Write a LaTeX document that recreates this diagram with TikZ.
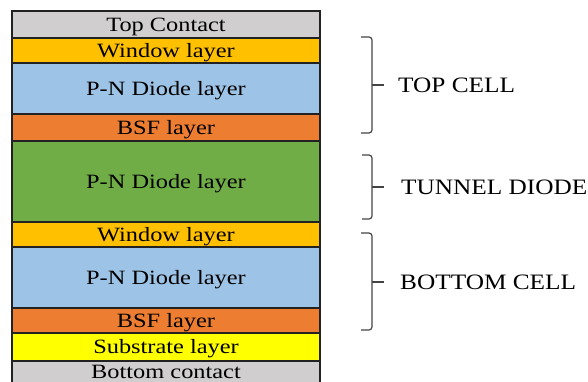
\documentclass[tikz,border=0pt]{standalone}
\usepackage{fontspec}
\setmainfont{Liberation Serif}
\newfontfamily\layfont[FakeStretch=1.2]{Liberation Serif}
\newfontfamily\labfont[FakeStretch=1.15]{Liberation Serif}
\definecolor{cgrey}{HTML}{D0CECE}
\definecolor{cgold}{HTML}{FFC000}
\definecolor{cblue}{HTML}{9DC3E6}
\definecolor{corange}{HTML}{ED7D31}
\definecolor{cgreen}{HTML}{70AD47}
\definecolor{cyellow}{HTML}{FFFF00}
\definecolor{cline}{HTML}{222222}
\definecolor{cbrace}{HTML}{444444}
\tikzset{
  layer/.style={draw=cline, line width=1.1pt, rectangle, anchor=north west,
    minimum width=308pt, inner sep=0pt, outer sep=0pt,
    text height=13.4pt, text depth=0pt,
    font=\layfont\fontsize{20.3}{22}\selectfont, text=black},
  bracepath/.style={draw=cbrace, line width=1.2pt, rounded corners=3pt},
  lab/.style={anchor=west, inner sep=0pt, font=\labfont\fontsize{22}{24}\selectfont, text=black}
}
\begin{document}
\begin{tikzpicture}[x=1pt,y=-1pt]
\clip (0,0) rectangle (588,382);
\fill[white] (0,0) rectangle (588,382);
% layers
\node[layer, fill=cgrey,   minimum height=27pt] (tc)   at (12,11)  {Top Contact};
\node[layer, fill=cgold,   minimum height=25pt] (w1)   at (12,38)  {Window layer};
\node[layer, fill=cblue,   minimum height=51pt] (pn1)  at (12,63)  {P-N Diode layer};
\node[layer, fill=corange, minimum height=27pt] (bsf1) at (12,114) {BSF layer};
\node[layer, fill=cgreen,  minimum height=81pt] (td)   at (12,141) {P-N Diode layer};
\node[layer, fill=cgold,   minimum height=25pt] (w2)   at (12,222) {Window layer};
\node[layer, fill=cblue,   minimum height=61pt] (pn2)  at (12,247) {P-N Diode layer};
\node[layer, fill=corange, minimum height=25pt] (bsf2) at (12,308) {BSF layer};
\node[layer, fill=cyellow, minimum height=28pt] (sub)  at (12,333) {Substrate layer};
\node[layer, fill=cgrey,   minimum height=25pt, text depth=3.5pt] (bc) at (12,361) {Bottom contact};
% braces
\coordinate (b1t) at (361,37);  \coordinate (b1m) at (384,85);  \coordinate (b1b) at (361,133);
\coordinate (b2t) at (362,155); \coordinate (b2m) at (384,187); \coordinate (b2b) at (362,219);
\coordinate (b3t) at (361,233); \coordinate (b3m) at (384,282); \coordinate (b3b) at (361,330);
\draw[bracepath] (b1t) -- (372,37) -- (372,133) -- (b1b);
\draw[bracepath] (372,85) -- (b1m);
\draw[bracepath] (b2t) -- (372,155) -- (372,219) -- (b2b);
\draw[bracepath] (372,187) -- (b2m);
\draw[bracepath] (b3t) -- (372,233) -- (372,330) -- (b3b);
\draw[bracepath] (372,282) -- (b3m);
% labels
\node[lab] (l1) at (398,85)  {TOP CELL};
\node[lab] (l2) at (401,187) {TUNNEL DIODE};
\node[lab] (l3) at (400,282) {BOTTOM CELL};
\end{tikzpicture}
\end{document}
